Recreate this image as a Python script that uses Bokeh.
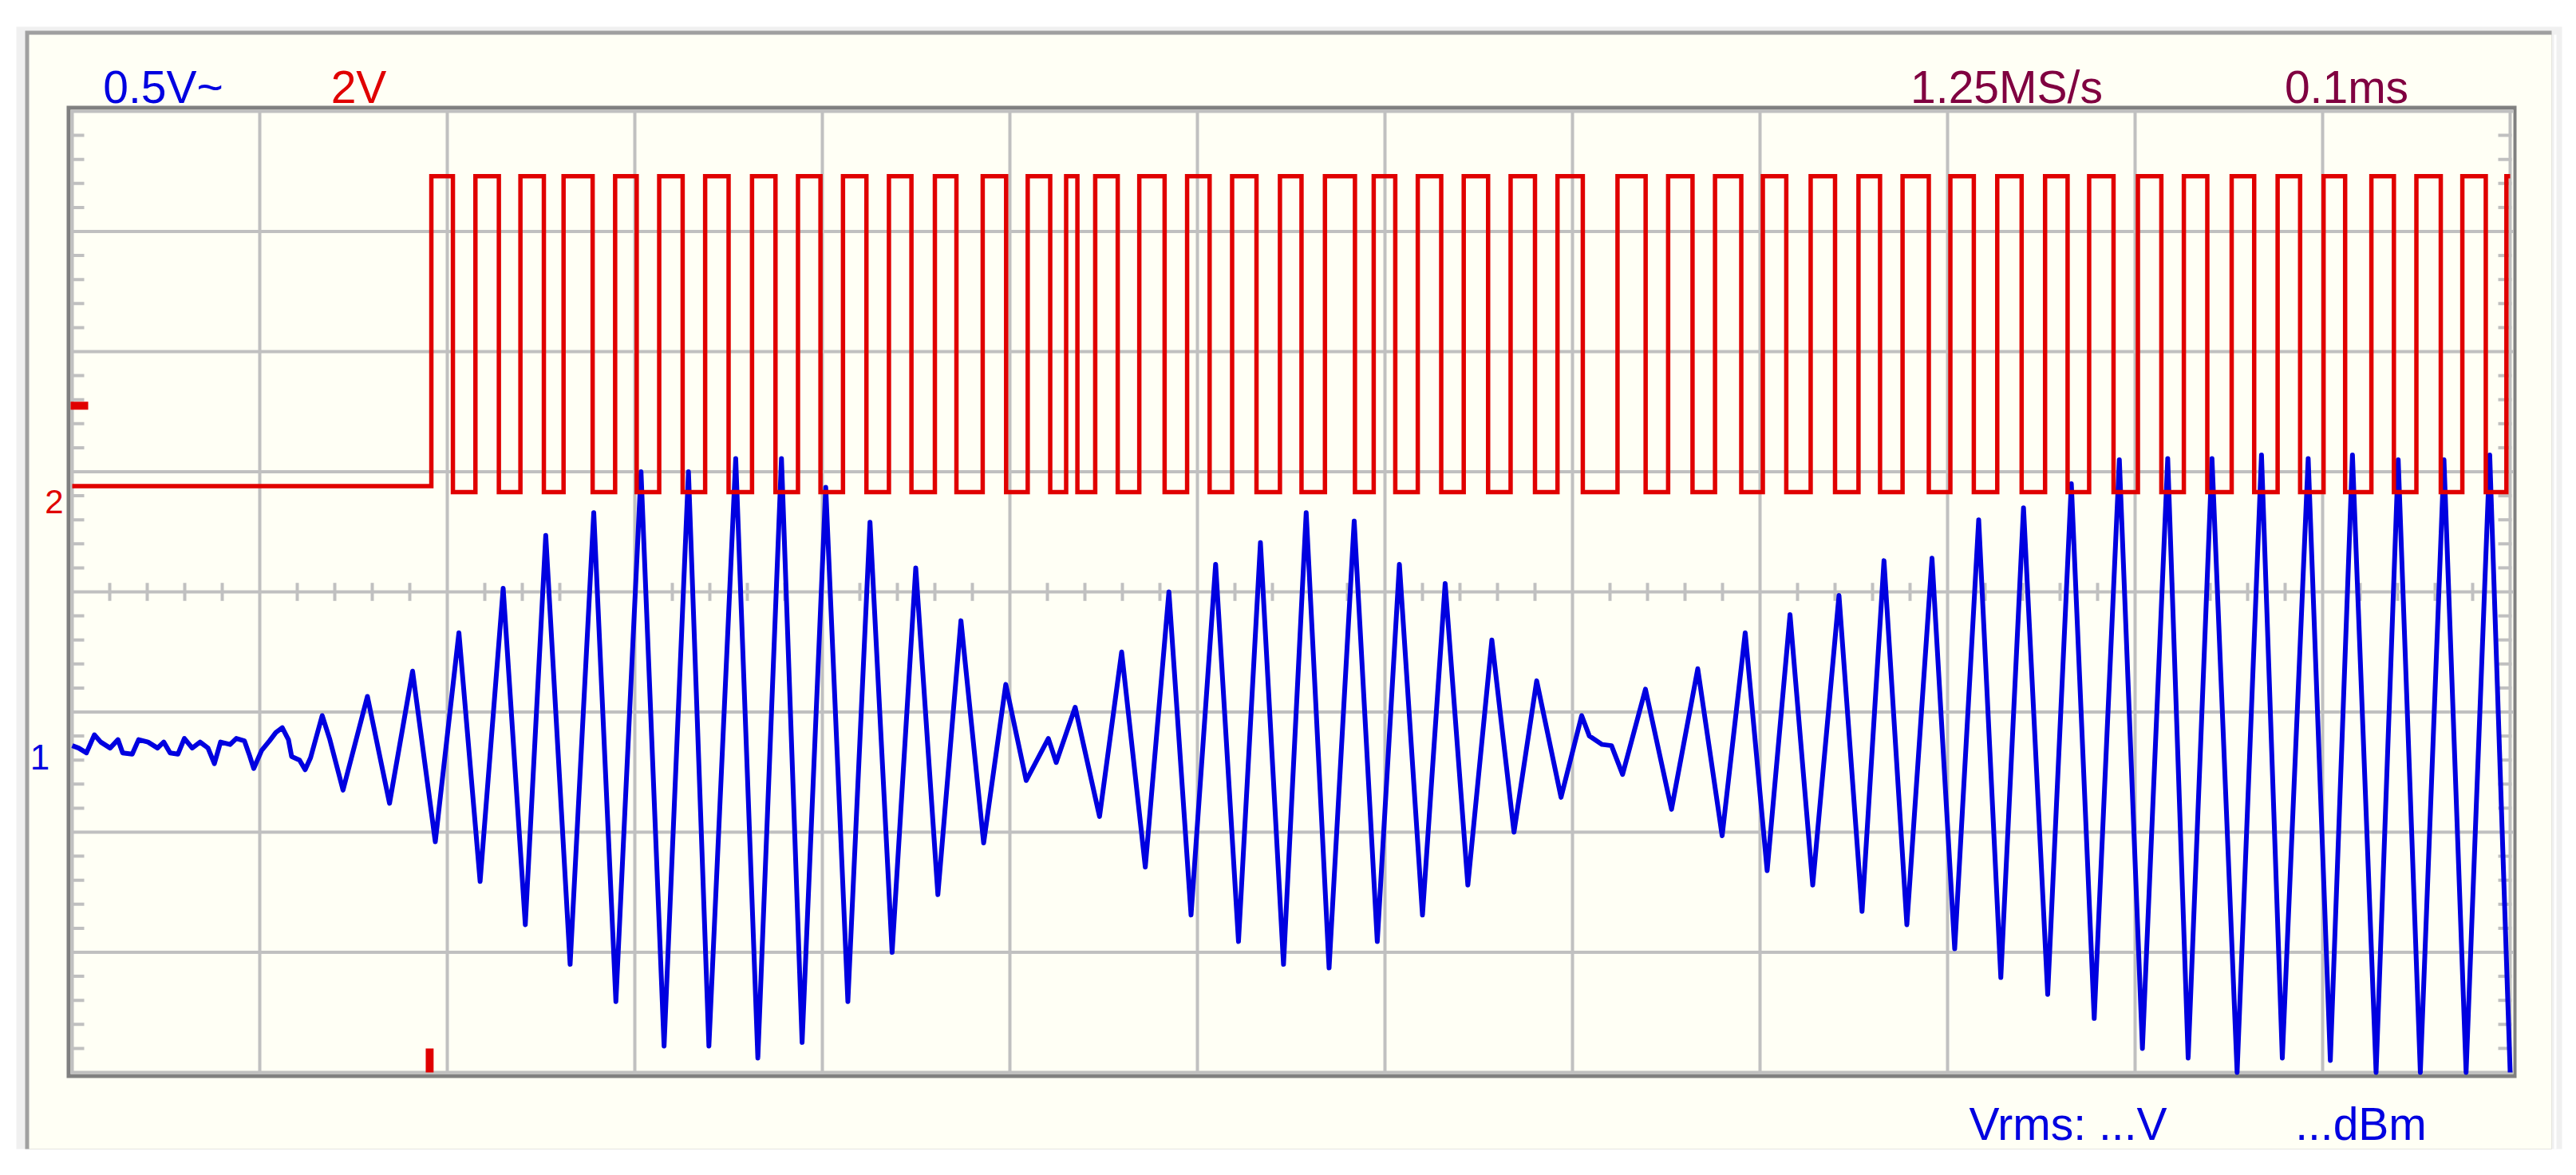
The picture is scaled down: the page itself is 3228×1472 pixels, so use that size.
import numpy as np
from bokeh.plotting import figure
from bokeh.models import Range1d
from bokeh.embed import file_html
from bokeh.resources import INLINE
from bokeh.core.properties import value

# ---------------- data ----------------
ch1_label = "0.5V~"
ch2_label = "2V"
rate_label = "1.25MS/s"
timebase_label = "0.1ms"
vrms_label = "Vrms: ...V"
dbm_label = "...dBm"

time_div_us = 100.0
n_time_div = 13
n_volt_div = 8
ch1_volts_per_div = 0.5
ch2_volts_per_div = 2.0
ch1_offset_div = -1.27
ch2_offset_div = 0.85
trigger_time_us = 190.6
trigger_level_v = 1.4

# channel 1 (blue) : time (us) and voltage (V)
blue_t_us = [0.0, 3.4, 7.6, 11.8, 15.2, 20.2, 24.4, 26.9, 32.0, 35.4, 40.4, 45.5, 48.8,
             52.2, 56.4, 59.8, 64.0, 68.2, 72.4, 75.8, 79.1, 84.2, 87.5, 91.8, 94.3,
             96.8, 101.0, 105.2, 108.6, 112.0, 115.3, 117.0, 121.2, 124.2, 127.1, 133.3,
             137.2, 144.4, 157.4, 169.2, 181.5, 193.6, 206.2, 217.5, 229.8, 241.6, 252.5,
             265.5, 278.1, 289.9, 303.3, 315.6, 328.6, 339.5, 353.8, 365.6, 378.2, 389.2,
             401.8, 413.6, 425.4, 437.2, 449.8, 461.6, 473.9, 486.0, 497.8, 508.7, 520.5,
             524.7, 534.8, 547.8, 559.6, 572.2, 584.8, 596.6, 609.7, 621.9, 633.6, 645.9,
             658.0, 670.2, 683.6, 695.9, 707.7, 720.0, 732.1, 744.2, 757.0, 768.8, 780.9,
             793.9, 804.9, 809.0, 815.8, 820.8, 826.7, 838.9, 852.8, 866.8, 879.8, 892.1,
             903.8, 916.0, 928.1, 942.1, 954.4, 966.1, 978.3, 991.7, 1003.8, 1016.6,
             1028.4, 1040.5, 1053.4, 1066.0, 1078.2, 1091.6, 1103.9, 1117.4, 1128.3,
             1141.0, 1154.4, 1167.4, 1178.5, 1192.3, 1204.1, 1215.9, 1228.5, 1240.3,
             1252.1, 1264.7, 1276.5, 1289.1, 1300.0]
blue_v = [-0.005, -0.015, -0.035, 0.04, 0.01, -0.015, 0.02, -0.035, -0.04, 0.02, 0.01, -0.015, 0.01,
          -0.035, -0.04, 0.025, -0.015, 0.01, -0.015, -0.08, 0.01, 0.0, 0.025, 0.015, -0.04,
          -0.10, -0.025, 0.015, 0.05, 0.07, 0.02, -0.05, -0.065, -0.105, -0.055, 0.12,
          0.025, -0.19, 0.20, -0.245, 0.305, -0.405, 0.465, -0.57, 0.65, -0.75, 0.87,
          -0.915, 0.965, -1.07, 1.135, -1.255, 1.135, -1.255, 1.19, -1.305, 1.19, -1.24,
          1.07, -1.07, 0.925, -0.865, 0.735, -0.625, 0.515, -0.41, 0.25, -0.15, 0.025,
          -0.075, 0.155, -0.30, 0.385, -0.51, 0.635, -0.71, 0.75, -0.82, 0.84, -0.915,
          0.965, -0.93, 0.93, -0.82, 0.75, -0.71, 0.67, -0.585, 0.435, -0.365, 0.265,
          -0.22, 0.12, 0.035, 0.0, -0.005, -0.125, 0.23, -0.27, 0.315, -0.38, 0.465,
          -0.525, 0.54, -0.585, 0.62, -0.695, 0.765, -0.75, 0.775, -0.85, 0.935,
          -0.97, 0.985, -1.04, 1.085, -1.14, 1.185, -1.265, 1.19, -1.305,
          1.19, -1.365, 1.205, -1.305, 1.19, -1.315, 1.205, -1.365, 1.185,
          -1.365, 1.185, -1.365, 1.205, -1.365]

# channel 2 (red) : logic levels (V) and edge times (us), rising / falling alternately
red_pre_v = 0.06
red_low_v = -0.04
red_high_v = 5.22
red_edge_us = [191.5, 203.0, 215.0, 227.5, 239.0, 251.5, 262.0, 277.5, 289.5, 301.0,
               313.0, 325.5, 337.5, 350.0, 362.5, 375.0, 387.0, 399.0, 411.0, 423.5,
               435.5, 447.5, 460.0, 471.5, 485.5, 498.0, 509.5, 521.5, 530.0, 536.0,
               545.5, 557.5, 569.0, 582.5, 594.5, 606.5, 618.5, 631.5, 644.0, 655.5,
               668.0, 684.0, 694.0, 705.5, 717.5, 730.0, 742.0, 755.0, 767.0, 780.0,
               792.0, 805.5, 824.0, 839.0, 851.0, 864.0, 876.0, 890.0, 901.5, 914.0,
               927.0, 940.0, 952.5, 964.0, 976.0, 990.0, 1001.5, 1014.0, 1026.5, 1039.5,
               1052.0, 1064.0, 1075.5, 1088.5, 1101.5, 1114.0, 1126.0, 1138.5, 1151.5, 1163.5,
               1176.0, 1188.0, 1200.5, 1212.0, 1226.0, 1238.0, 1250.0, 1263.0, 1274.5, 1287.0,
               1298.0]

# ---------------- layout helpers (page pixels -> data units) ----------------
W, H = 3212, 1456
PX_PER_US = 2.35
PX_PER_DIV = 150.5
X0_PX, YC_PX = 90.0, 741.0
ORIGIN = 0  # page position of the figure's top-left corner

def X(px):
    return (px - X0_PX) / PX_PER_US

def Y(py):
    return (YC_PX - py) / PX_PER_DIV

t_end = n_time_div * time_div_us
half = n_volt_div / 2

p = figure(width=W, height=H,
           x_range=Range1d(X(ORIGIN), X(ORIGIN + W)), y_range=Range1d(Y(ORIGIN + H), Y(ORIGIN)),
           output_backend="svg", toolbar_location=None, min_border=0,
           x_axis_location=None, y_axis_location=None)
p.grid.visible = False
p.outline_line_color = None
p.background_fill_color = "white"
p.border_fill_color = "white"

def box(l, t, r, b, color):
    p.quad(left=[X(l)], right=[X(r)], top=[Y(t)], bottom=[Y(b)], fill_color=color, line_color=None)

CREAM = "#FFFFF5"
GRID = "#C0C0C0"
BLUE = "#0000E0"
RED = "#E00000"
WINE = "#800040"

# window panel
box(20, 33, 3210, 1439, "#F0F0F0")
box(31, 38, 3197, 1439, "#A0A0A0")
box(36, 43, 3197, 1439, CREAM)
box(3200, 43, 3203, 1439, "#FFFFFF")
# scope screen
box(83, 132, 3153, 1350, "#808080")
box(88, 137, 3149, 1345, CREAM)

# grid
gx = [k * time_div_us for k in range(n_time_div + 1)]
p.segment(x0=gx, y0=Y(1345), x1=gx, y1=Y(137), line_color=GRID, line_width=4)
gy = [k - half for k in range(n_volt_div + 1)]
p.segment(x0=X(88), y0=gy, x1=X(3149), y1=gy, line_color=GRID, line_width=4)

minor_t = [k * time_div_us / 5 for k in range(n_time_div * 5 + 1) if k % 5 != 0]
p.segment(x0=minor_t, y0=-0.075, x1=minor_t, y1=0.075, line_color=GRID, line_width=4)
minor_d = [round(-half + 0.2 * k, 2) for k in range(n_volt_div * 5 + 1) if k % 5 != 0]
p.segment(x0=X(88), y0=minor_d, x1=X(105), y1=minor_d, line_color=GRID, line_width=4)
p.segment(x0=X(3130), y0=minor_d, x1=X(3147), y1=minor_d, line_color=GRID, line_width=4)

# channel 1 trace
blue_d = np.array(blue_v) / ch1_volts_per_div + ch1_offset_div
p.line(blue_t_us, blue_d, line_color=BLUE, line_width=6, line_join="round")

# channel 2 trace (built from edges)
rx, ry = [0.0], [red_pre_v]
level = red_pre_v
for i, te in enumerate(red_edge_us):
    new = red_high_v if i % 2 == 0 else red_low_v
    rx += [te, te]
    ry += [level, new]
    level = new
rx.append(t_end)
ry.append(level)
red_d = np.array(ry) / ch2_volts_per_div + ch2_offset_div
p.line(rx, red_d, line_color=RED, line_width=5.5, line_join="miter")

# trigger markers
trig_d = trigger_level_v / ch2_volts_per_div + ch2_offset_div
p.quad(left=[X(88)], right=[X(110)], top=[trig_d + 0.033], bottom=[trig_d - 0.033],
       fill_color=RED, line_color=None)
p.quad(left=[trigger_time_us - 2.1], right=[trigger_time_us + 2.1], top=[Y(1313)], bottom=[-half],
       fill_color=RED, line_color=None)

FONT = value("Liberation Sans")

def label(cx, base, txt, color, size):
    p.text(x=[X(cx)], y=[Y(base)], text=[txt], text_font=FONT, text_font_size=size,
           text_color=color, text_align="center", text_baseline="alphabetic")

label(204, 108, ch1_label, BLUE, "57px")
label(449, 108, ch2_label, RED, "57px")
label(2514, 108, rate_label, WINE, "57px")
label(2940, 108, timebase_label, WINE, "57px")
label(2591, 1407, vrms_label, BLUE, "57px")
label(2958, 1407, dbm_label, BLUE, "57px")

# channel offset markers
p.text(x=[X(67.5)], y=[ch2_offset_div - 15 / PX_PER_DIV], text=["2"], text_font=FONT,
       text_font_size="42px", text_color=RED, text_align="center", text_baseline="alphabetic")
p.text(x=[X(49.5)], y=[ch1_offset_div - 16 / PX_PER_DIV], text=["1"], text_font=FONT,
       text_font_size="44px", text_color=BLUE, text_align="center", text_baseline="alphabetic")

open("out.html", "w").write(file_html(p, INLINE))
